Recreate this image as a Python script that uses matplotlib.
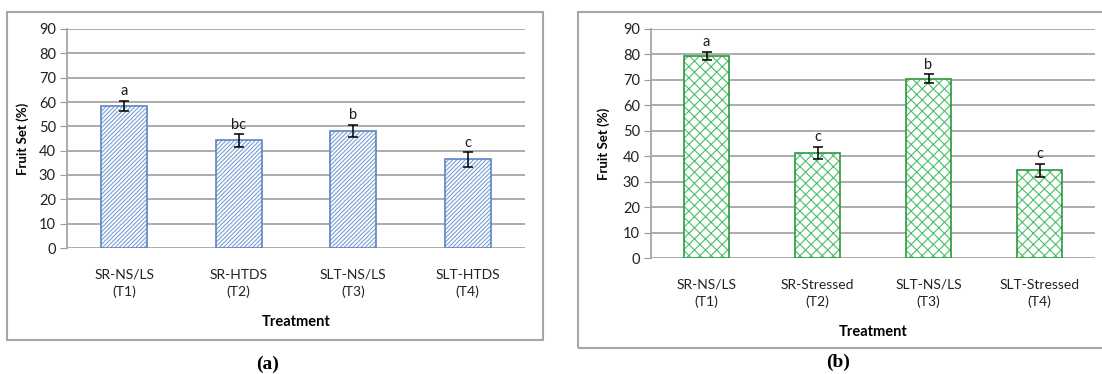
import numpy as np
import matplotlib.pyplot as plt
from matplotlib.patches import Rectangle

# Fruit set per treatment, two experiments
cats_a = ["SR-NS/LS\n(T1)", "SR-HTDS\n(T2)", "SLT-NS/LS\n(T3)", "SLT-HTDS\n(T4)"]
vals_a = [58.5, 44.2, 48.2, 36.4]
err_a = [2.0, 2.5, 2.5, 3.0]
sig_a = ["a", "bc", "b", "c"]

cats_b = ["SR-NS/LS\n(T1)", "SR-Stressed\n(T2)", "SLT-NS/LS\n(T3)", "SLT-Stressed\n(T4)"]
vals_b = [79.5, 41.3, 70.5, 34.5]
err_b = [1.5, 2.5, 1.7, 2.6]
sig_b = ["a", "c", "b", "c"]

yticks = np.arange(0, 100, 10)

plt.rcParams['font.family'] = ['Lato', 'DejaVu Sans']
plt.rcParams['hatch.linewidth'] = 0.8

W, H = 1102, 374
fig = plt.figure(figsize=(W / 100, H / 100), dpi=100)


def px_box(x0, y0, x1, y1):
    # pixel box (top-left origin) -> figure fraction rect
    return [x0 / W, 1 - y1 / H, (x1 - x0) / W, (y1 - y0) / H]


def panel(rect, cats, vals, errs, sig, hatch, hatch_col, edge_col, lab_pad):
    ax = fig.add_axes(rect)
    x = np.arange(len(cats))
    ax.bar(x, vals, width=0.4, color="white", edgecolor=hatch_col, hatch=hatch,
           linewidth=0, zorder=2)
    ax.bar(x, vals, width=0.4, fill=False, edgecolor=edge_col, linewidth=1.2, zorder=3)
    ax.errorbar(x, vals, yerr=errs, fmt="none", ecolor="black", elinewidth=1.1,
                capsize=3.5, capthick=1.1, zorder=4)
    for xi, v, e, s in zip(x, vals, errs, sig):
        ax.text(xi, v + e + 1.0, s, ha="center", va="bottom", fontsize=10.5, color="#1a1a1a")
    ax.set_xlim(-0.5, len(cats) - 0.5)
    ax.set_ylim(0, 90)
    ax.set_yticks(yticks)
    ax.set_xticks(x)
    ax.set_xticklabels(cats, fontsize=10, linespacing=1.45, color="#222222")
    ax.tick_params(axis="x", length=0, pad=lab_pad)
    ax.tick_params(axis="y", length=5, color="#999999", labelsize=10.5, labelcolor="#222222", pad=3)
    ax.yaxis.grid(True, color="#a6a6a6", linewidth=1.3, zorder=0)
    ax.set_axisbelow(True)
    for s in ["top", "right", "bottom"]:
        ax.spines[s].set_visible(False)
    ax.spines["left"].set_color("#a6a6a6")
    ax.spines["left"].set_linewidth(1.3)
    return ax


ax1 = panel(px_box(67, 29, 525, 248), cats_a, vals_a, err_a, sig_a,
            "////////", "#7b9fd3", "#5b85c4", 15)
ax1.set_ylabel("Fruit Set (%)", fontsize=9.5, fontweight="bold", labelpad=7)
ax1.set_xlabel("Treatment", fontsize=10.5, fontweight="bold", labelpad=12)

ax2 = panel(px_box(651, 29, 1095, 258), cats_b, vals_b, err_b, sig_b,
            "xxx", "#4cbf6a", "#2a9a3a", 15)
ax2.set_ylabel("Fruit Set (%)", fontsize=9.5, fontweight="bold", labelpad=9)
ax2.set_xlabel("Treatment", fontsize=10.5, fontweight="bold", labelpad=12)

# chart frames
fig.patches.append(Rectangle((7 / W, 1 - 340 / H), 536 / W, 328 / H, transform=fig.transFigure,
                             fill=False, edgecolor="#a6a6a6", linewidth=1.5, zorder=0))
fig.patches.append(Rectangle((578 / W, 1 - 348 / H), 540 / W, 336 / H, transform=fig.transFigure,
                             fill=False, edgecolor="#a6a6a6", linewidth=1.5, zorder=0))

fig.text(268 / W, 1 - 364 / H, "(a)", ha="center", va="center", fontsize=14,
         fontweight="bold", family="Liberation Serif")
fig.text(838 / W, 1 - 362 / H, "(b)", ha="center", va="center", fontsize=14,
         fontweight="bold", family="Liberation Serif")

fig.savefig("out.png", dpi=100)
